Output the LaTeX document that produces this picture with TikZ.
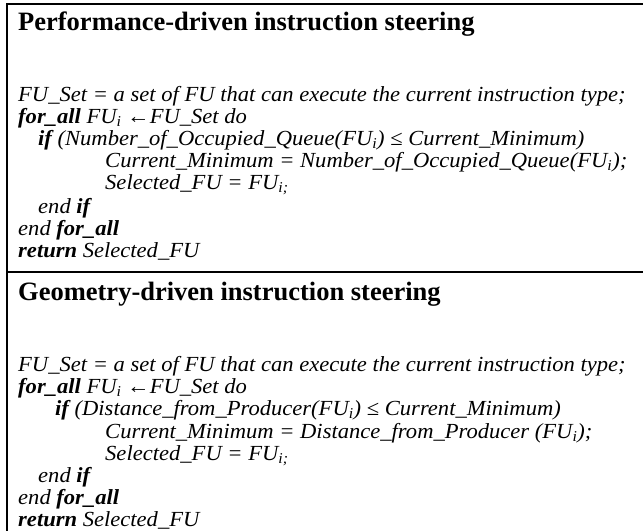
\documentclass[tikz,border=0pt]{standalone}
\usepackage{fontspec}
\setmainfont{Liberation Serif}
\newfontfamily\codefont{Liberation Serif}[FakeStretch=1.05]
\usetikzlibrary{positioning}
\newcommand{\kw}[1]{\textbf{#1}}
\newcommand{\fui}{FU\textsubscript{i}}

\begin{document}
\begin{tikzpicture}[x=1pt,y=-1pt,
  codeline/.style={anchor=base west,inner sep=0pt,font=\codefont\fontsize{21.5}{22}\selectfont\itshape},
  heading/.style={anchor=base west,inner sep=0pt,font=\fontsize{26.5}{27}\selectfont\bfseries},
  frame/.style={line width=2pt}]
  \useasboundingbox (0,0) rectangle (643,531);
  % frame: top, left and the divider
  \coordinate (tl) at (6.5,4);
  \coordinate (tr) at (643,4);
  \coordinate (bl) at (6.5,531);
  \coordinate (ml) at (6.5,272);
  \coordinate (mr) at (643,272);
  \draw[frame] (tr) -- (tl) -- (bl);
  \draw[frame] (ml) -- (mr);
  % performance-driven steering
  \node[heading] (pt) at (18,30) {Performance-driven instruction steering};
  \node[codeline] (p1) at (18,101) {FU\_Set = a set of FU that can execute the current instruction type;};
  \node[codeline] (p2) at (18,123) {\kw{for\_all} \fui\ ←FU\_Set do};
  \node[codeline] (p3) at (38,145) {\kw{if} (Number\_of\_Occupied\_Queue(\fui) \textup{≤} Current\_Minimum)};
  \node[codeline] (p4) at (105,167) {Current\_Minimum = Number\_of\_Occupied\_Queue(\fui);};
  \node[codeline] (p5) at (105,189) {Selected\_FU = FU\textsubscript{i;}};
  \node[codeline] (p6) at (38,213) {end \kw{if}};
  \node[codeline] (p7) at (18,235) {end \kw{for\_all}};
  \node[codeline] (p8) at (18,257) {\kw{return} Selected\_FU};
  % geometry-driven steering
  \node[heading] (gt) at (18,300) {Geometry-driven instruction steering};
  \node[codeline] (g1) at (18,371) {FU\_Set = a set of FU that can execute the current instruction type;};
  \node[codeline] (g2) at (18,393) {\kw{for\_all} \fui\ ←FU\_Set do};
  \node[codeline] (g3) at (55,415) {\kw{if} (Distance\_from\_Producer(\fui) \textup{≤} Current\_Minimum)};
  \node[codeline] (g4) at (105,438) {Current\_Minimum = Distance\_from\_Producer (\fui);};
  \node[codeline] (g5) at (105,460) {Selected\_FU = FU\textsubscript{i;}};
  \node[codeline] (g6) at (38,482) {end \kw{if}};
  \node[codeline] (g7) at (18,504) {end \kw{for\_all}};
  \node[codeline] (g8) at (18,526) {\kw{return} Selected\_FU};
\end{tikzpicture}
\end{document}
